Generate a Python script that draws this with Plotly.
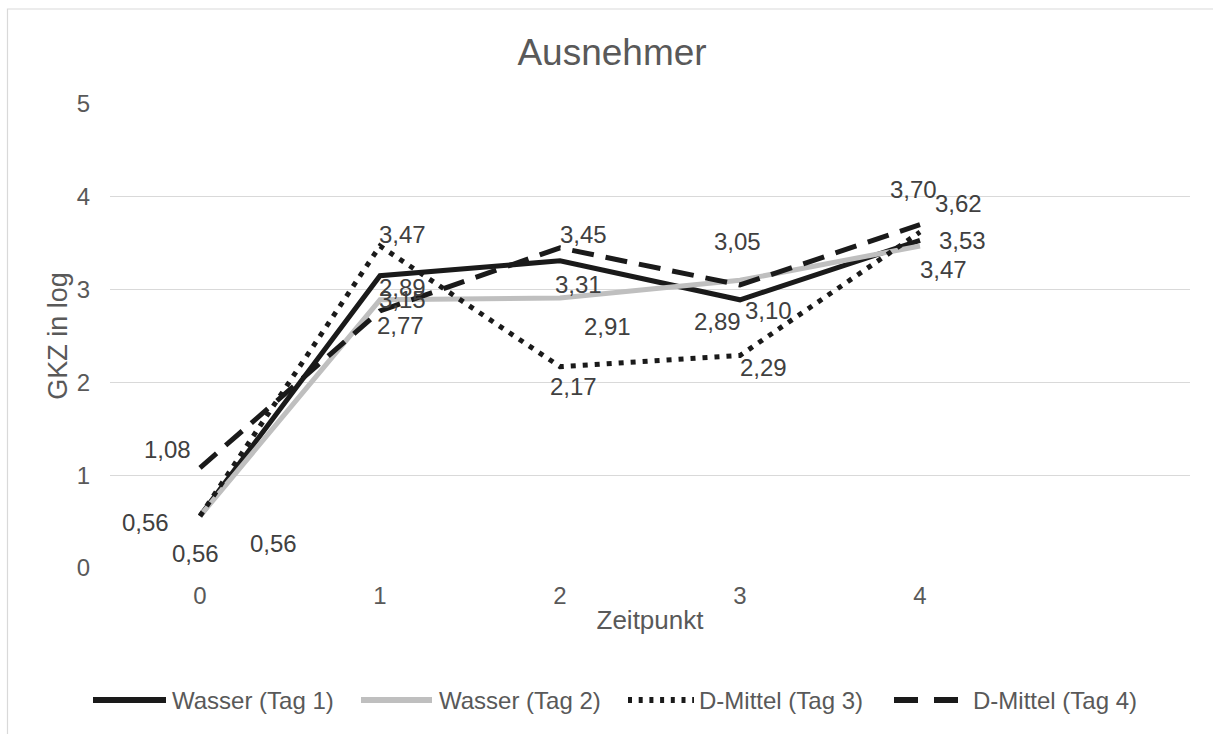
import plotly.graph_objects as go

# ---- data ----
zeitpunkt = [0, 1, 2, 3, 4]
wasser_tag1 = [0.56, 3.15, 3.31, 2.89, 3.53]
wasser_tag2 = [0.56, 2.89, 2.91, 3.10, 3.47]
dmittel_tag3 = [0.56, 3.47, 2.17, 2.29, 3.62]
dmittel_tag4 = [1.08, 2.77, 3.45, 3.05, 3.70]
series_names = ["Wasser (Tag 1)", "Wasser (Tag 2)", "D-Mittel (Tag 3)", "D-Mittel (Tag 4)"]
y_ticks = [0, 1, 2, 3, 4, 5]

# ---- styles ----
styles = [
    dict(color="#1a1a1a", width=5, dash="solid"),
    dict(color="#bfbfbf", width=5, dash="solid"),
    dict(color="#1a1a1a", width=5, dash="5px,7px"),
    dict(color="#1a1a1a", width=5, dash="22px,12px"),
]
# label offsets in pixels (xshift, yshift) per series / point
label_offsets = [
    [(-55, -6), (22, -24), (18, -24), (-23, -22), (42, 0)],
    [(-5, -37), (22, 12), (47, -29), (28, -30), (23, -24)],
    [(73, -27), (22, 11), (13, -20), (23, -12), (38, 29)],
    [(-33, 18), (20, -15), (23, 13), (-3, 43), (-7, 35)],
]
# legend layout in pixels: (symbol x0, symbol x1, text x0)
legend_pos = [(93, 166, 170), (361, 432, 437), (628, 694, 697), (894, 958, 971)]
legend_dash = ["solid", "solid", "4px,6.7px", "24px,16px"]
legend_y = 700

FONT = "Liberation Sans, Arial, sans-serif"
TXT = "#595959"

L, R, T, B = 110, 23, 104, 166
W, H = 1213, 734
pw, ph = W - L - R, H - T - B


def px2x(px):
    return (px - L) / pw


def py2y(py):
    return (H - B - py) / ph


fig = go.Figure()
all_series = [wasser_tag1, wasser_tag2, dmittel_tag3, dmittel_tag4]
annotations = []
shapes = [dict(type="rect", xref="paper", yref="paper", x0=px2x(7.5), x1=1.5, y0=-0.8, y1=py2y(9),
               line=dict(color="#d9d9d9", width=1.2), fillcolor="rgba(0,0,0,0)", layer="below")]
for name, vals, st, offs in zip(series_names, all_series, styles, label_offsets):
    fig.add_trace(go.Scatter(
        x=zeitpunkt, y=vals, mode="lines", name=name, showlegend=False,
        line=dict(color=st["color"], width=st["width"], dash=st["dash"]),
        hoverinfo="skip",
    ))
    for xv, yv, (dx, dy) in zip(zeitpunkt, vals, offs):
        annotations.append(dict(
            x=xv, y=yv, xref="x", yref="y", text=f"{yv:.2f}".replace(".", ","),
            showarrow=False, xshift=dx, yshift=dy,
            font=dict(family=FONT, size=24, color="#404040"),
        ))

# custom legend (longer symbols as in the reference)
for name, st, (s0, s1, t0), dsh in zip(series_names, styles, legend_pos, legend_dash):
    shapes.append(dict(type="line", xref="paper", yref="paper",
                       x0=px2x(s0), x1=px2x(s1), y0=py2y(legend_y), y1=py2y(legend_y),
                       line=dict(color=st["color"], width=6, dash=dsh)))
    annotations.append(dict(x=px2x(t0), y=py2y(legend_y), xref="paper", yref="paper",
                            text=name, showarrow=False, xanchor="left", yanchor="middle",
                            font=dict(family=FONT, size=24, color=TXT)))

fig.update_layout(
    width=W, height=H,
    margin=dict(l=L, r=R, t=T, b=B, autoexpand=False),
    paper_bgcolor="white", plot_bgcolor="white",
    font=dict(family=FONT, size=24, color=TXT),
    title=dict(text="Ausnehmer", x=612 / W, xanchor="center", y=1 - 52 / H, yanchor="middle",
               font=dict(family=FONT, size=37, color=TXT)),
    xaxis=dict(
        range=[-0.5, 5.5], tickvals=zeitpunkt, ticktext=[str(v) for v in zeitpunkt],
        showgrid=False, zeroline=False, showline=False,
        ticks="outside", ticklen=6, tickcolor="rgba(0,0,0,0)",
        tickfont=dict(family=FONT, size=24, color=TXT),
        title=dict(text="Zeitpunkt", standoff=3, font=dict(family=FONT, size=26, color=TXT)),
        fixedrange=True,
    ),
    yaxis=dict(
        range=[0, 5], tickvals=y_ticks, ticktext=[str(v) for v in y_ticks],
        showgrid=True, gridcolor="#d9d9d9", gridwidth=1.3, zeroline=False, showline=False,
        ticks="outside", ticklen=14, tickcolor="rgba(0,0,0,0)",
        tickfont=dict(family=FONT, size=24, color=TXT),
        title=dict(text="GKZ in log", standoff=1, font=dict(family=FONT, size=27, color=TXT)),
        fixedrange=True,
    ),
    annotations=annotations,
    shapes=shapes,
    showlegend=False,
)

fig.write_html("out.html")
